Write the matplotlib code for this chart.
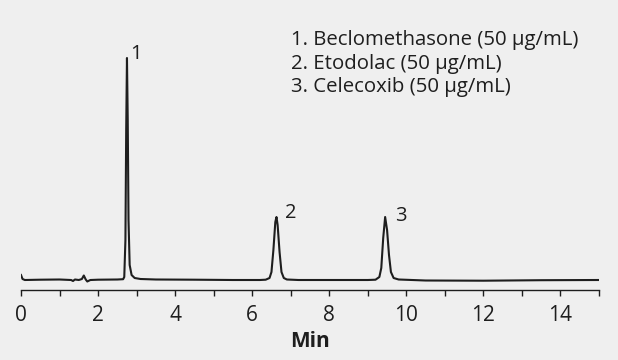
import matplotlib.pyplot as plt
from matplotlib.ticker import MultipleLocator

# chromatogram trace (time in min, signal in arbitrary units)
time = [0.0, 0.04, 0.1, 0.5, 1.0, 1.3, 1.35, 1.4, 1.5, 1.58, 1.63, 1.68, 1.72, 1.8,
        2.0, 2.5, 2.65, 2.68, 2.71, 2.73, 2.75, 2.77, 2.79, 2.82, 2.87, 2.95, 3.1, 3.5,
        4.5, 5.5, 6.2, 6.35, 6.45, 6.5, 6.55, 6.6, 6.63, 6.66, 6.71, 6.76, 6.82, 6.9,
        7.2, 8.0, 9.0, 9.2, 9.3, 9.35, 9.4, 9.45, 9.5, 9.55, 9.6, 9.67, 9.8, 10.5,
        12.0, 13.5, 15.0]
signal = [5, 1, 0, 0.3, 0.5, 0, -1, 0.5, 0, 1, 4.5, 0.5, -1.5, 0,
          0.3, 0.5, 0.8, 3, 40, 150, 222, 160, 60, 15, 5, 2, 1, 0.5,
          0.3, 0, 0, 0.3, 2, 8, 30, 58, 63, 55, 28, 8, 2, 0.5,
          0, 0, 0, 0.3, 3, 12, 42, 63, 50, 25, 8, 2, 0.5, -0.5,
          -0.7, -0.2, 0]

peak_labels = ['1', '2', '3']
peak_label_x = [2.84, 6.86, 9.7]
peak_label_y = [226, 67, 64]

legend_lines = ['1. Beclomethasone (50 µg/mL)',
                '2. Etodolac (50 µg/mL)',
                '3. Celecoxib (50 µg/mL)']

bg = '#efefef'
ink = '#1e1e1e'
plt.rcParams['font.family'] = ['Open Sans', 'DejaVu Sans']

fig = plt.figure(figsize=(6.18, 3.6), dpi=100, facecolor=bg)
ax = fig.add_axes([21/618, 1-290/360, 578/618, 270/360], facecolor=bg)

ax.plot(time, signal, color=ink, linewidth=1.5)

for lab, x, y in zip(peak_labels, peak_label_x, peak_label_y):
    ax.text(x, y, lab, fontsize=14.5, color=ink, ha='left', va='center')

for i, line in enumerate(legend_lines):
    fig.text(291/618, 1-(40+23.5*i)/360, line, fontsize=14.7, color=ink,
             ha='left', va='center')

ax.set_xlim(0, 15)
ax.set_ylim(-10, 260)
for s in ['top', 'right', 'left']:
    ax.spines[s].set_visible(False)
ax.spines['bottom'].set_color(ink)
ax.spines['bottom'].set_linewidth(1.0)
ax.set_yticks([])
ax.xaxis.set_major_locator(MultipleLocator(2))
ax.xaxis.set_minor_locator(MultipleLocator(1))
ax.tick_params(axis='x', which='both', direction='out', length=4.5, width=1.0,
               color=ink, labelsize=15, labelcolor=ink, pad=6)
ax.set_xlabel('Min', fontsize=15, fontweight='bold', color=ink, labelpad=4)

fig.savefig('out.png', dpi=100, facecolor=bg)
